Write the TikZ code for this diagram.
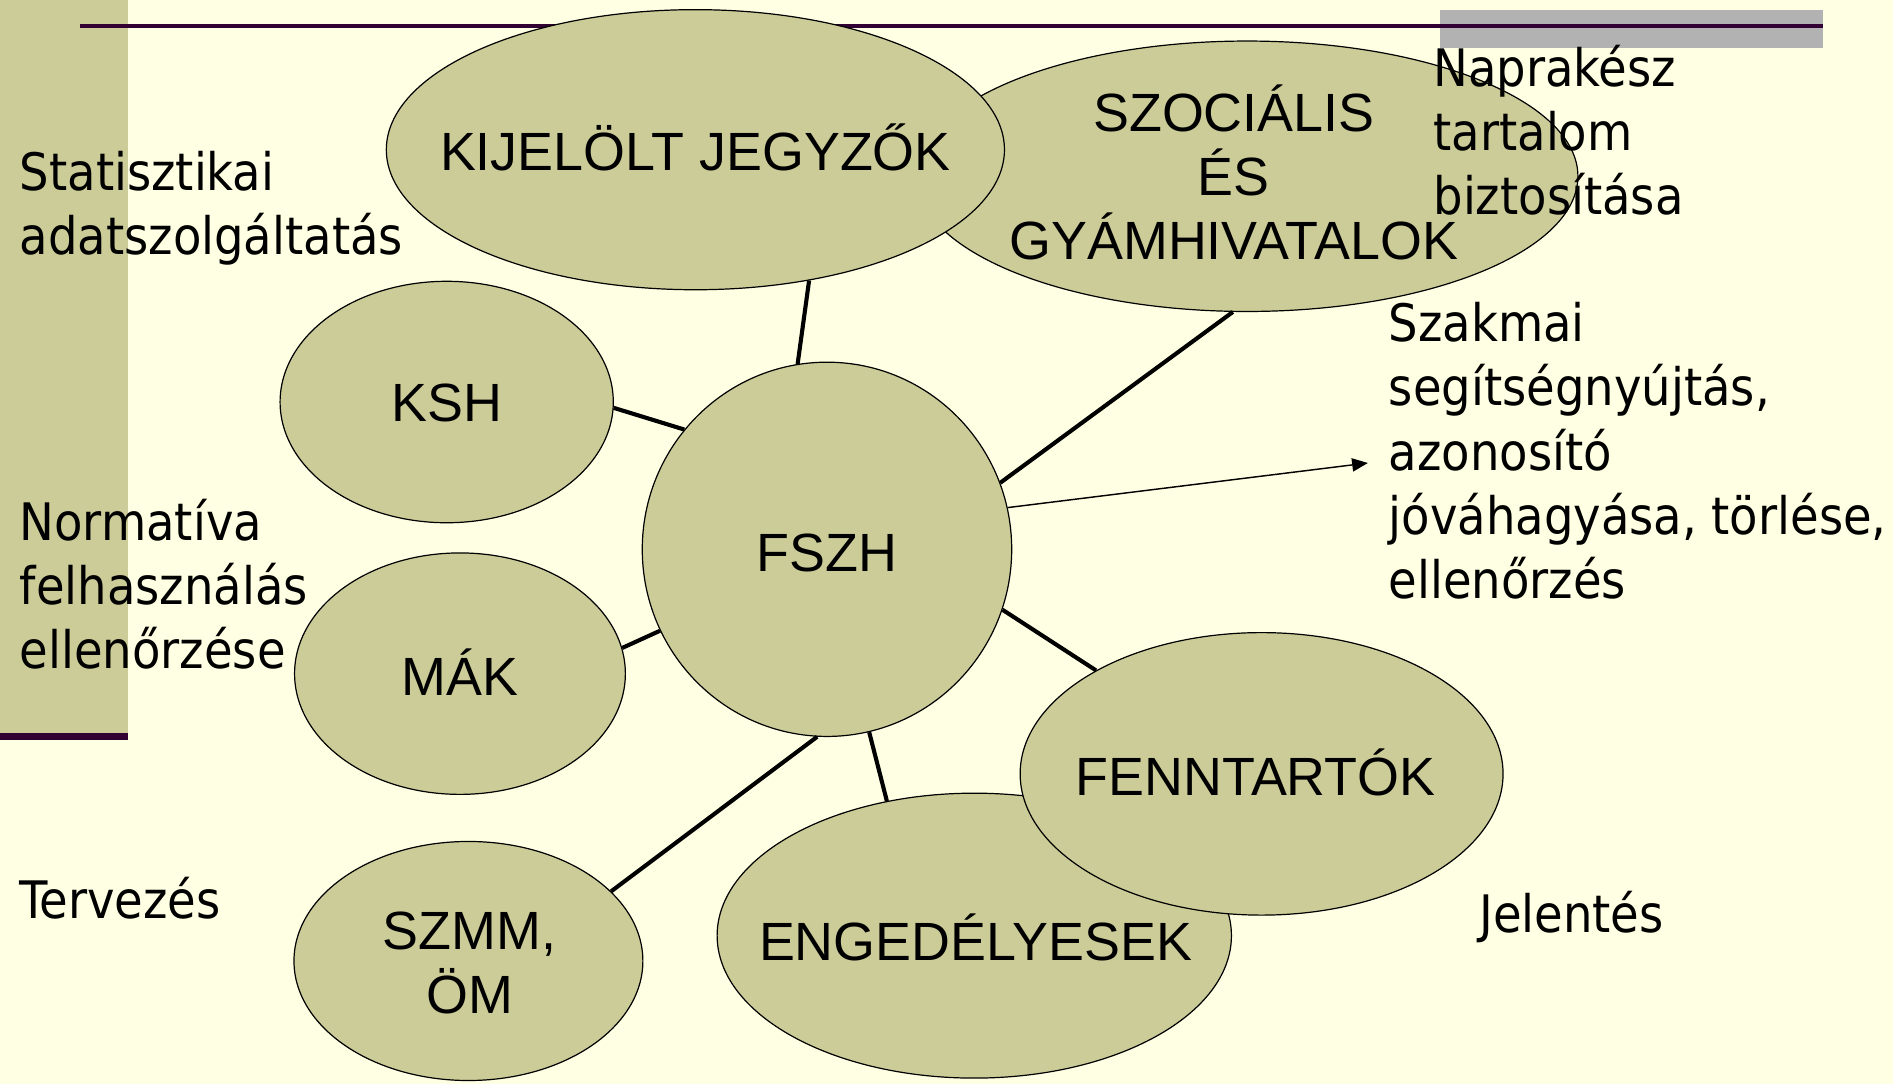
\documentclass[tikz,border=0pt]{standalone}
\usepackage{fontspec}
\setmainfont{Liberation Sans}
\newfontfamily\sidefont{DejaVu Sans Condensed}
\usetikzlibrary{shapes.geometric,arrows.meta}
\definecolor{bg}{HTML}{FFFFE3}
\definecolor{olive}{HTML}{CCCC99}
\definecolor{plum}{HTML}{330033}
\definecolor{bargray}{HTML}{B2B2B2}
\begin{document}
\begin{tikzpicture}[x=0.5pt,y=-0.5pt,
  ell/.style={ellipse,draw=black,line width=0.5pt,fill=olive,inner sep=0pt},
  lbl/.style={font=\fontsize{22.3pt}{26.5pt}\selectfont,align=center,inner sep=0pt},
  side/.style={font=\sidefont\fontsize{21.4pt}{26.6pt}\selectfont,align=left,inner sep=0pt,anchor=north west},
  link/.style={line width=1.7pt},
  pointer/.style={line width=0.6pt,-{Triangle[length=6.5pt,width=5.5pt]}}]
\fill[bg] (0,0) rectangle (1568,898);
\useasboundingbox (0,0) rectangle (1568,898);
% decoration
\fill[olive] (0,0) rectangle (106,607);
\fill[plum] (0,607) rectangle (106,613);
\fill[bargray] (1193,8) rectangle (1510,40);
\fill[plum] (66,19.5) rectangle (1510,23.5);
% ellipses
\node[ell,minimum width=274pt,minimum height=112pt] (szoc) at (1033,146) {};
\node[ell,minimum width=256pt,minimum height=116pt] (kij) at (576,124) {};
\node[ell,minimum width=138pt,minimum height=100pt] (ksh) at (370,333) {};
\node[ell,minimum width=153pt,minimum height=155pt] (fszh) at (685,455) {};
\node[ell,minimum width=137pt,minimum height=100pt] (mak) at (381,558) {};
\node[ell,minimum width=144.5pt,minimum height=99pt] (szmm) at (388,796) {};
\node[ell,minimum width=213pt,minimum height=118pt] (eng) at (807,775) {};
\node[ell,minimum width=200pt,minimum height=117pt] (fenn) at (1045,641) {};
% labels
\node[lbl] (szoct) at (1022,143) {SZOCIÁLIS\\ÉS\\GYÁMHIVATALOK};
\node[lbl,anchor=base] (kijt) at (576,141) {KIJELÖLT JEGYZŐK};
\node[lbl,anchor=base] (ksht) at (370,349) {KSH};
\node[lbl,anchor=base] (fszht) at (685,473) {FSZH};
\node[lbl,anchor=base] (makt) at (381,576) {MÁK};
\node[lbl] (szmmt) at (389,798) {SZMM,\\ÖM};
\node[lbl,anchor=base] (engt) at (808,796) {ENGEDÉLYESEK};
\node[lbl,anchor=base] (fennt) at (1040,659) {FENNTARTÓK};
% connectors
\draw[link] (kij.-49.8) -- (fszh.99.8);
\draw[link] (szoc.-96.5) -- (fszh.21.3);
\draw[link] (ksh.-2.5) -- (fszh.140.2);
\draw[link] (mak.9.7) -- (fszh.206.9);
\draw[link] (fszh.-19) -- (fenn.148.2);
\draw[link] (fszh.-77) -- (eng.123.8);
\draw[link] (fszh.-93.3) -- (szmm.26.6);
\coordinate (tip) at (1133,383.5);
\draw[pointer] (fszh.13.1) -- (tip);
% side texts
\node[side] (stat) at (16,125) {Statisztikai\\adatszolgáltatás};
\node[side] (norm) at (16,413) {Normatíva\\felhasználás\\ellenőrzése};
\node[side] (terv) at (16,726) {Tervezés};
\node[side] (napr) at (1187,37) {Naprakész\\tartalom\\biztosítása};
\node[side] (szak) at (1150,250) {Szakmai\\segítségnyújtás,\\azonosító\\jóváhagyása, törlése,\\ellenőrzés};
\node[side] (jel) at (1225,738) {Jelentés};
\end{tikzpicture}
\end{document}
